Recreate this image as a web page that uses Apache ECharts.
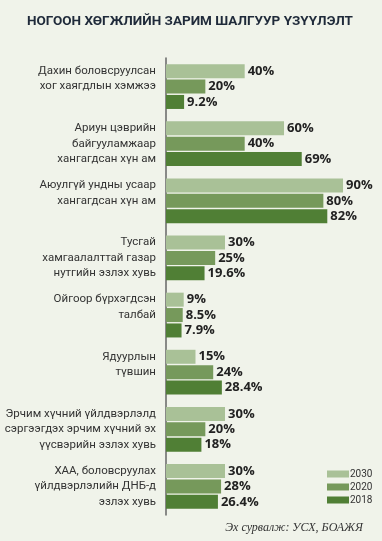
<!DOCTYPE html>
<html><head><meta charset="utf-8">
<script src="https://cdn.jsdelivr.net/npm/echarts@6/dist/echarts.min.js"></script>
<style>html,body{margin:0;padding:0;background:#f0f3ea;}#c{width:382px;height:541px;}</style>
</head><body><div id="c"></div>
<script>
var title = 'НОГООН ХӨГЖЛИЙН ЗАРИМ ШАЛГУУР ҮЗҮҮЛЭЛТ';
var source = 'Эх сурвалж: УСХ, БОАЖЯ';
var categories = [
  'Дахин боловсруулсан\nхог хаягдлын хэмжээ\n ',
  'Ариун цэврийн\nбайгууламжаар\nхангагдсан хүн ам',
  'Аюулгүй ундны усаар\nхангагдсан хүн ам\n ',
  'Тусгай\nхамгаалалттай газар\nнутгийн эзлэх хувь',
  'Ойгоор бүрхэгдсэн\nталбай\n ',
  'Ядуурлын\nтүвшин\n ',
  'Эрчим хүчний үйлдвэрлэлд\nсэргээгдэх эрчим хүчний эх\nүүсвэрийн эзлэх хувь',
  'ХАА, боловсруулах\nүйлдвэрлэлийн ДНБ-д\nэзлэх хувь'
];
var years = ['2030', '2020', '2018'];
var values2030 = [40, 60, 90, 30, 9, 15, 30, 30];
var values2020 = [20, 40, 80, 25, 8.5, 24, 20, 28];
var values2018 = [9.2, 69, 82, 19.6, 7.9, 28.4, 18, 26.4];
var colors = ['#a9c197', '#76995b', '#507f35'];

var chart = echarts.init(document.getElementById('c'));
function mk(name, data, color) {
  return {
    name: name, type: 'bar', data: data, barWidth: 14, barGap: '10%',
    itemStyle: { color: color },
    label: { show: true, position: 'right', distance: 3, formatter: '{c}%',
      color: '#222', fontFamily: 'Open Sans', fontWeight: 'bold', fontSize: 13 }
  };
}
chart.setOption({
  backgroundColor: '#f0f3ea',
  animation: false,
  title: [{ text: title, left: 22, top: 10,
    textStyle: { fontFamily: 'Roboto', fontWeight: 'bold', fontSize: 13.5, color: '#1f2a3a' } },
    { text: source, right: 14, bottom: 2,
      textStyle: { fontFamily: 'Liberation Serif', fontStyle: 'italic', fontWeight: 'normal', fontSize: 12, color: '#333' } }],
  legend: { data: years, orient: 'vertical', left: 322, top: 463, itemWidth: 22, itemHeight: 7, itemGap: 1,
    icon: 'rect', textStyle: { fontFamily: 'Roboto', fontSize: 10, lineHeight: 12, color: '#333', padding: [0,0,0,-4] } },
  grid: { left: 166, right: 19.3, top: 58, bottom: 26 },
  xAxis: { type: 'value', min: 0, max: 100, show: false },
  yAxis: { type: 'category', data: categories, inverse: true,
    axisLine: { show: true, lineStyle: { color: '#666', width: 1.5 } },
    axisTick: { show: false },
    axisLabel: { fontFamily: 'Roboto', fontSize: 11.5, color: '#333', lineHeight: 15.5, margin: 10, align: 'right' } },
  series: [mk('2030', values2030, colors[0]), mk('2020', values2020, colors[1]), mk('2018', values2018, colors[2])]
});
</script></body></html>
